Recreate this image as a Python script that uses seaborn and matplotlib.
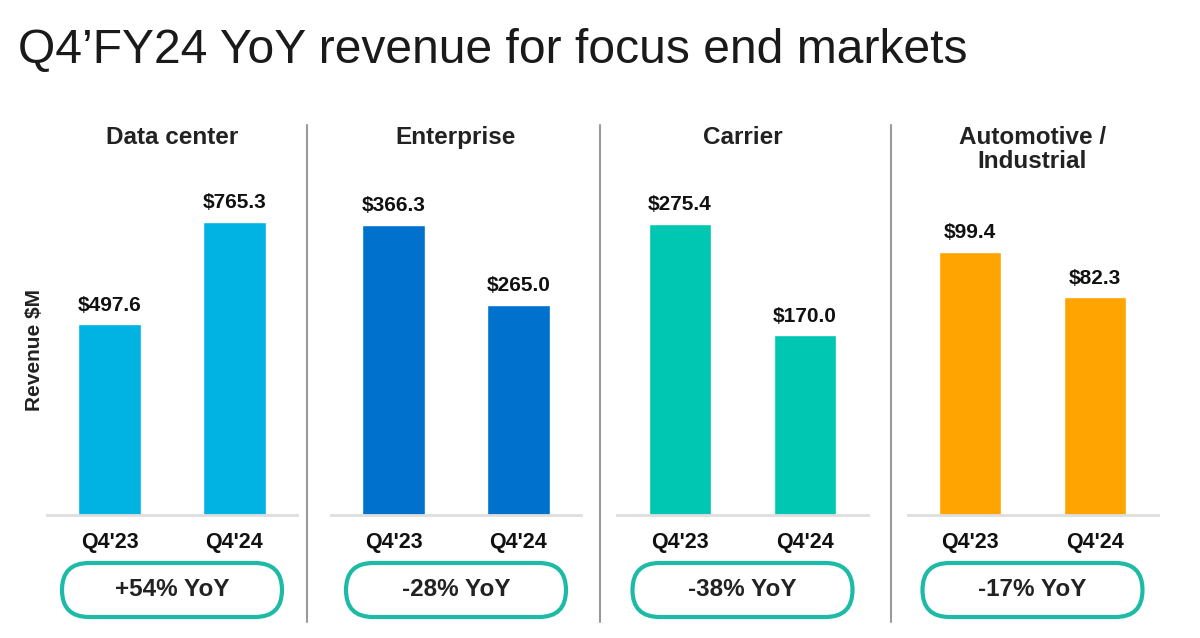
import matplotlib.pyplot as plt
import numpy as np
import pandas as pd
import seaborn as sns
from matplotlib.patches import FancyBboxPatch

# Data
segments = ["Data center", "Enterprise", "Carrier", "Automotive /\nIndustrial"]
quarters = ["Q4'23", "Q4'24"]
rev_q4_23 = [497.6, 366.3, 275.4, 99.4]
rev_q4_24 = [765.3, 265.0, 170.0, 82.3]
yoy_labels = ["+54% YoY", "-28% YoY", "-38% YoY", "-17% YoY"]

# Styling
colors = ["#00B3E3", "#0072CE", "#00C7B1", "#FFA400"]
pill_color = "#1DBBA6"
y_tops = [875, 423, 317, 126.6]  # each panel has its own scale
panel_left_px = [47, 331, 617.5, 907.5]
divider_x_px = [307, 600, 891]

W, H = 1200, 638
sns.set_style("white")
plt.rcParams["font.family"] = ["Liberation Sans", "DejaVu Sans"]

fig = plt.figure(figsize=(W / 100, H / 100), dpi=100)

# overlay in pixel coordinates for decorations
overlay = fig.add_axes([0, 0, 1, 1], zorder=0)
overlay.set_xlim(0, W)
overlay.set_ylim(H, 0)
overlay.axis("off")

base_px, top_px, width_px = 515, 180, 250

for i, seg in enumerate(segments):
    df = pd.DataFrame({"quarter": quarters, "revenue": [rev_q4_23[i], rev_q4_24[i]]})
    ax = fig.add_axes([panel_left_px[i] / W, (H - base_px) / H,
                       width_px / W, (base_px - top_px) / H], zorder=1)
    ax.patch.set_alpha(0)
    sns.barplot(data=df, x="quarter", y="revenue", color=colors[i],
                saturation=1, width=0.5, ax=ax)
    ax.set_xlim(-0.5, 1.5)
    ax.set_ylim(0, y_tops[i])
    ax.set_xlabel("")
    ax.set_ylabel("")
    ax.set_yticks([])
    for s in ["top", "left", "right"]:
        ax.spines[s].set_visible(False)
    ax.spines["bottom"].set_color("#dedede")
    ax.spines["bottom"].set_linewidth(2)
    ax.tick_params(axis="x", length=0, pad=12, labelsize=15.5, labelcolor="#111111")
    for t in ax.get_xticklabels():
        t.set_fontweight("bold")
    ax.bar_label(ax.containers[0], labels=[f"${v:.1f}" for v in df["revenue"]],
                 padding=7, fontsize=15, fontweight="bold", color="#111111")

    cx = panel_left_px[i] + width_px / 2
    overlay.text(cx, 126, seg, ha="center", va="top", fontsize=17.5,
                 fontweight="bold", color="#222222", linespacing=1.05)

    pill_w, pill_h = 220, 54
    pill = FancyBboxPatch((cx - pill_w / 2, 563), pill_w, pill_h,
                          boxstyle="round,pad=0,rounding_size=27",
                          facecolor="white", edgecolor=pill_color, linewidth=3)
    overlay.add_patch(pill)
    overlay.text(cx, 590, yoy_labels[i], ha="center", va="center", fontsize=17.5,
                 fontweight="bold", color="#222222")

for x in divider_x_px:
    overlay.plot([x, x], [125, 622], color="#9a9a9a", lw=1.5)

overlay.text(18, 51, "Q4\u2019FY24 YoY revenue for focus end markets", ha="left",
             va="center", fontsize=34.6, color="#1a1a1a")
overlay.text(35, 350, "Revenue $M", rotation=90, ha="center", va="center",
             fontsize=15, fontweight="bold", color="#222222")

fig.savefig("out.png", dpi=100)
